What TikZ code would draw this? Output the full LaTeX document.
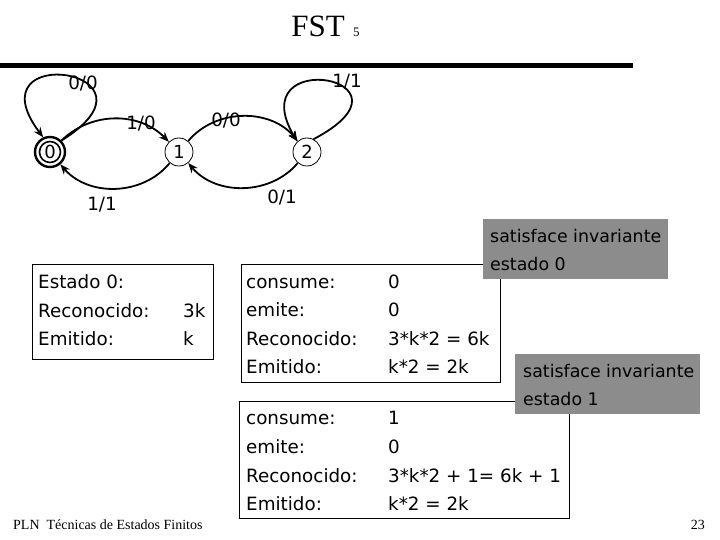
\documentclass[tikz,border=0pt]{standalone}
\usepackage{fontspec}
\setmainfont{DejaVu Sans}
\newfontfamily\serifff{Liberation Serif}
\usetikzlibrary{arrows.meta}
\definecolor{boxgray}{RGB}{140,140,140}
\begin{document}
\begin{tikzpicture}[x=1pt,y=1pt,
  state/.style={circle, draw, line width=0.8pt, minimum size=28pt, inner sep=0pt, font=\fontsize{18}{18}\selectfont},
  edge/.style={line width=1.8pt, -{Stealth[length=10pt,width=8pt]}},
  lbl/.style={inner sep=0pt, font=\fontsize{18.3}{20}\selectfont},
  txt/.style={anchor=base west, inner sep=0pt, font=\fontsize{18.3}{20}\selectfont},
  gtxt/.style={anchor=base west, inner sep=0pt, font=\fontsize{17.4}{20}\selectfont},
  tbox/.style={draw, line width=0.9pt},
  gbox/.style={fill=boxgray}]
\useasboundingbox (0,0) rectangle (720,-540);

% title and rule
\node[anchor=base, inner sep=0pt, font=\serifff\fontsize{31}{31}\selectfont] (title) at (318,-37) {FST};
\node[anchor=base west, inner sep=0pt, font=\serifff\fontsize{13}{13}\selectfont] (num) at (353,-37) {5};
\draw[line width=5pt] (0,-66) -- (633,-66);

% states
\node[state] (q1) at (179,-152) {1};
\node[state] (q2) at (307,-152) {2};
\node[circle, draw, line width=2.4pt, minimum size=30pt, inner sep=0pt] (q0) at (50,-152) {};
\node[circle, draw, line width=1.6pt, minimum size=21pt, inner sep=0pt, font=\fontsize{18}{18}\selectfont] (q0in) at (50,-152) {0};

% transitions
\draw[edge] (q0.45) .. controls (175,-70) and (-30,-40) .. (q0.115);
\draw[edge] (q0) to[bend left=45] (q1);
\draw[edge] (q1) to[bend left=50] (q2);
\draw[edge] (q2.63) .. controls (430,-78) and (240,-45) .. (q2.133);
\draw[edge] (q2) to[bend left=50] (q1);
\draw[edge] (q1) to[bend left=50] (q0);

\node[lbl] (l00a) at (83,-84) {0/0};
\node[lbl] (l10) at (141,-124) {1/0};
\node[lbl] (l00b) at (226,-121) {0/0};
\node[lbl] (l11a) at (347,-82) {1/1};
\node[lbl] (l01) at (282,-198) {0/1};
\node[lbl] (l11b) at (102,-205) {1/1};

% box 1
\draw[tbox] (32,-264) rectangle (213,-359);
\node[txt] (e0) at (38,-288) {Estado 0:};
\node[txt] (r0) at (38,-317) {Reconocido:};
\node[txt] (r0v) at (183,-317) {3k};
\node[txt] (m0) at (38,-345) {Emitido:};
\node[txt] (m0v) at (183,-345) {k};

% box 2
\draw[tbox] (241,-264) rectangle (500,-382);
\node[txt] (c1) at (246,-288) {consume:};
\node[txt] (c1v) at (388,-288) {0};
\node[txt] (em1) at (246,-316.5) {emite:};
\node[txt] (em1v) at (388,-316.5) {0};
\node[txt] (r1) at (246,-345) {Reconocido:};
\node[txt] (r1v) at (388,-345) {3*k*2 = 6k};
\node[txt] (m1) at (246,-373.5) {Emitido:};
\node[txt] (m1v) at (388,-373.5) {k*2 = 2k};

% box 3
\draw[tbox] (239,-401) rectangle (569,-518);
\node[txt] (c2) at (246,-424) {consume:};
\node[txt] (c2v) at (388,-424) {1};
\node[txt] (em2) at (246,-453) {emite:};
\node[txt] (em2v) at (388,-453) {0};
\node[txt] (r2) at (246,-482) {Reconocido:};
\node[txt] (r2v) at (388,-482) {3*k*2 + 1= 6k + 1};
\node[txt] (m2) at (246,-510) {Emitido:};
\node[txt] (m2v) at (388,-510) {k*2 = 2k};

% gray notes
\fill[gbox] (483,-219) rectangle (668,-279);
\node[gtxt] (g1a) at (490,-242) {satisface invariante};
\node[gtxt] (g1b) at (490,-270) {estado 0};
\fill[gbox] (515,-354) rectangle (700,-414);
\node[gtxt] (g2a) at (523,-377) {satisface invariante};
\node[gtxt] (g2b) at (523,-405) {estado 1};

% footer
\node[anchor=base west, inner sep=0pt, font=\serifff\fontsize{14}{14}\selectfont] (foot) at (13,-529) {PLN\ \ Técnicas de Estados Finitos};
\node[anchor=base east, inner sep=0pt, font=\serifff\fontsize{14}{14}\selectfont] (page) at (705,-529) {23};
\end{tikzpicture}
\end{document}
